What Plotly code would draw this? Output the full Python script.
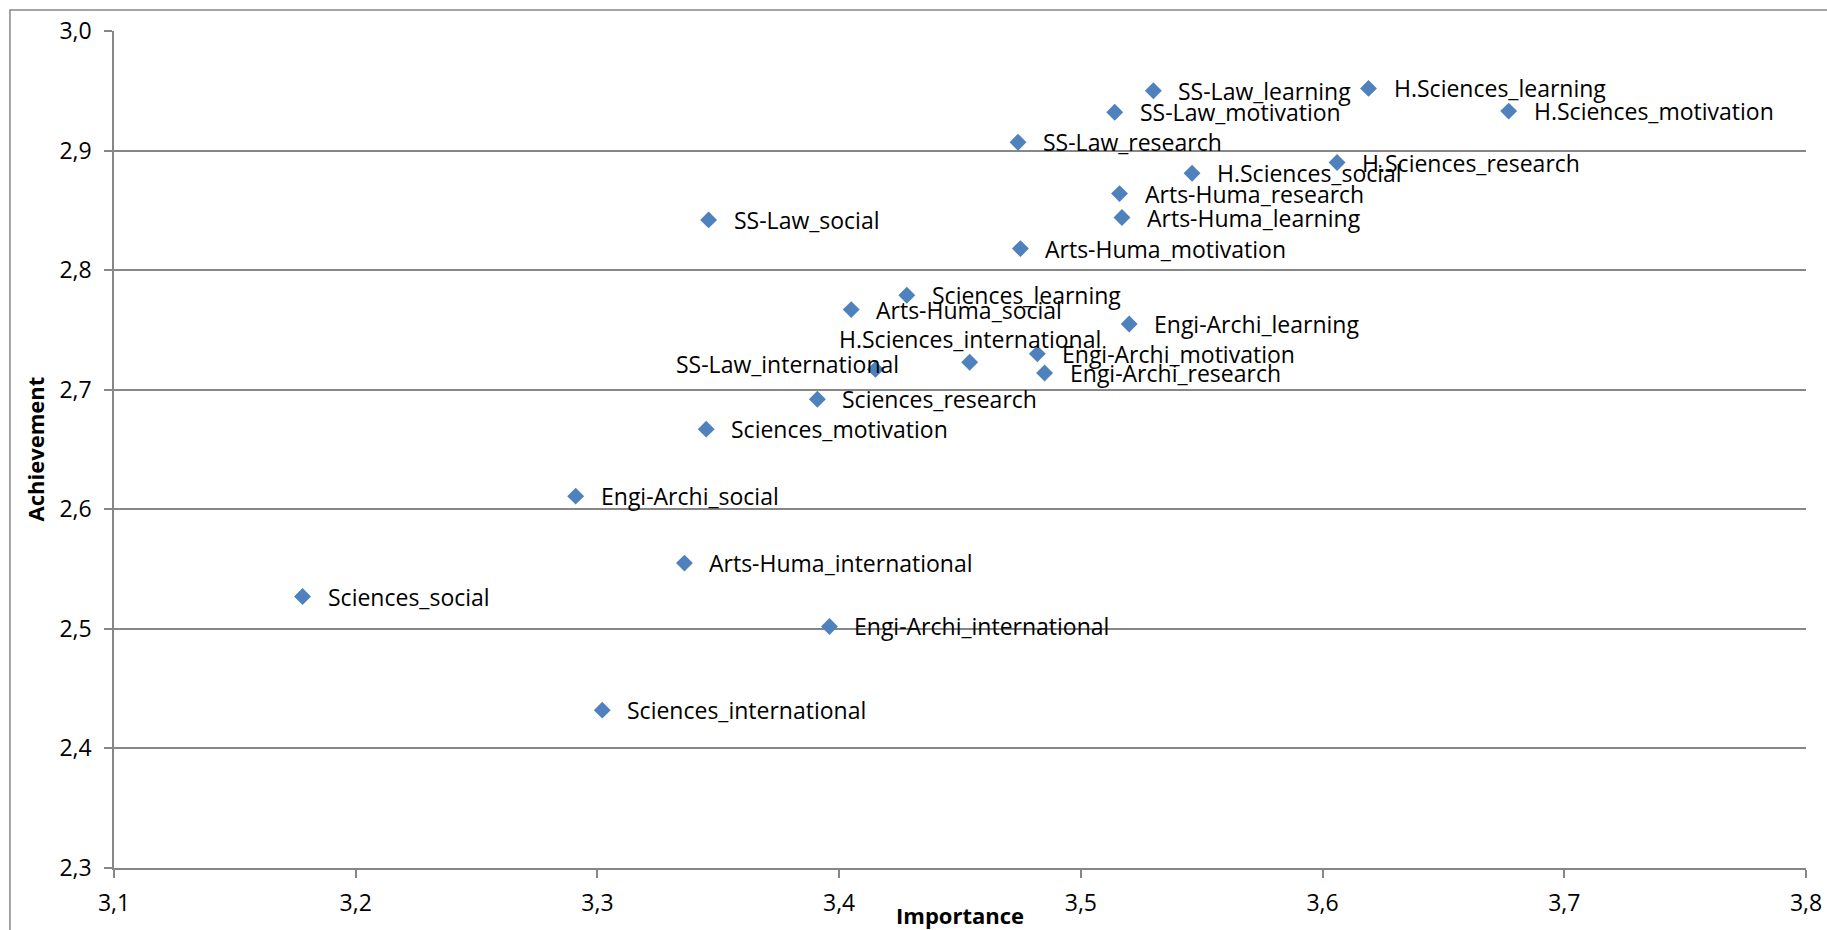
import plotly.graph_objects as go

# Faculty / dimension pairs: mean importance vs. mean achievement
labels = [
    "SS-Law_learning", "H.Sciences_learning", "SS-Law_motivation", "H.Sciences_motivation",
    "SS-Law_research", "H.Sciences_research", "H.Sciences_social", "Arts-Huma_research",
    "Arts-Huma_learning", "SS-Law_social", "Arts-Huma_motivation", "Sciences_learning",
    "Arts-Huma_social", "Engi-Archi_learning", "Engi-Archi_motivation", "H.Sciences_international",
    "SS-Law_international", "Engi-Archi_research", "Sciences_research", "Sciences_motivation",
    "Engi-Archi_social", "Arts-Huma_international", "Sciences_social", "Engi-Archi_international",
    "Sciences_international",
]
importance = [
    3.530, 3.619, 3.514, 3.677,
    3.474, 3.606, 3.546, 3.516,
    3.517, 3.346, 3.475, 3.428,
    3.405, 3.520, 3.482, 3.454,
    3.415, 3.485, 3.391, 3.345,
    3.291, 3.336, 3.178, 3.396,
    3.302,
]
achievement = [
    2.950, 2.952, 2.932, 2.933,
    2.907, 2.890, 2.881, 2.864,
    2.844, 2.842, 2.818, 2.779,
    2.767, 2.755, 2.730, 2.723,
    2.717, 2.714, 2.692, 2.667,
    2.611, 2.555, 2.527, 2.502,
    2.432,
]

FONT = "Open Sans"
GRID = "#878787"

fig = go.Figure()
fig.add_trace(go.Scatter(
    x=importance, y=achievement, mode="markers",
    marker=dict(symbol="diamond", size=13, color="#4F81BD", line=dict(width=0)),
    hoverinfo="text", text=labels, showlegend=False,
))

# point labels: to the right of each marker, with a couple of manual placements
annotations = []
for name, xv, yv in zip(labels, importance, achievement):
    a = dict(x=xv, y=yv, xref="x", yref="y", text=name, showarrow=False,
             font=dict(family=FONT, size=23, color="#000000"),
             xanchor="left", yanchor="middle", xshift=23, yshift=0)
    if name == "SS-Law_international":
        a.update(xanchor="right", xshift=26, yshift=5)
    elif name == "H.Sciences_international":
        a.update(xanchor="center", xshift=0, yshift=23)
    annotations.append(a)

# axis titles
annotations.append(dict(x=0.5, y=0, xref="paper", yref="paper", text="<b>Importance</b>",
                        showarrow=False, xanchor="center", yanchor="middle", yshift=-47,
                        font=dict(family=FONT, size=22, color="#000000")))
annotations.append(dict(x=0, y=0.5, xref="paper", yref="paper", text="<b>Achievement</b>",
                        showarrow=False, xanchor="center", yanchor="middle", xshift=-80,
                        textangle=-90, font=dict(family=FONT, size=22, color="#000000")))

fig.update_layout(
    width=1827, height=930,
    margin=dict(l=114, r=21, t=31, b=62),
    paper_bgcolor="white", plot_bgcolor="white",
    separators=", ",
    annotations=annotations,
    shapes=[dict(type="rect", xref="paper", yref="paper",
                 x0=-0.0615, x1=1.05, y0=-0.2, y1=1.0251,
                 line=dict(color=GRID, width=1.5), fillcolor="rgba(0,0,0,0)", layer="below")],
)
fig.update_xaxes(
    range=[3.1, 3.8], dtick=0.1, tick0=3.1, tickformat=".1f",
    showgrid=False, zeroline=False, automargin=False,
    showline=True, linecolor=GRID, linewidth=1.5,
    ticks="outside", ticklen=8, tickcolor=GRID, tickwidth=1.5,
    ticklabelstandoff=6,
    tickfont=dict(family=FONT, size=23, color="#000000"),
)
fig.update_yaxes(
    range=[2.3, 3.0], dtick=0.1, tick0=2.3, tickformat=".1f",
    showgrid=True, gridcolor=GRID, gridwidth=1.5, zeroline=False, automargin=False,
    showline=True, linecolor=GRID, linewidth=1.5,
    ticks="outside", ticklen=8, tickcolor=GRID, tickwidth=1.5,
    ticklabelstandoff=8,
    tickfont=dict(family=FONT, size=23, color="#000000"),
)

fig.write_html("out.html")
